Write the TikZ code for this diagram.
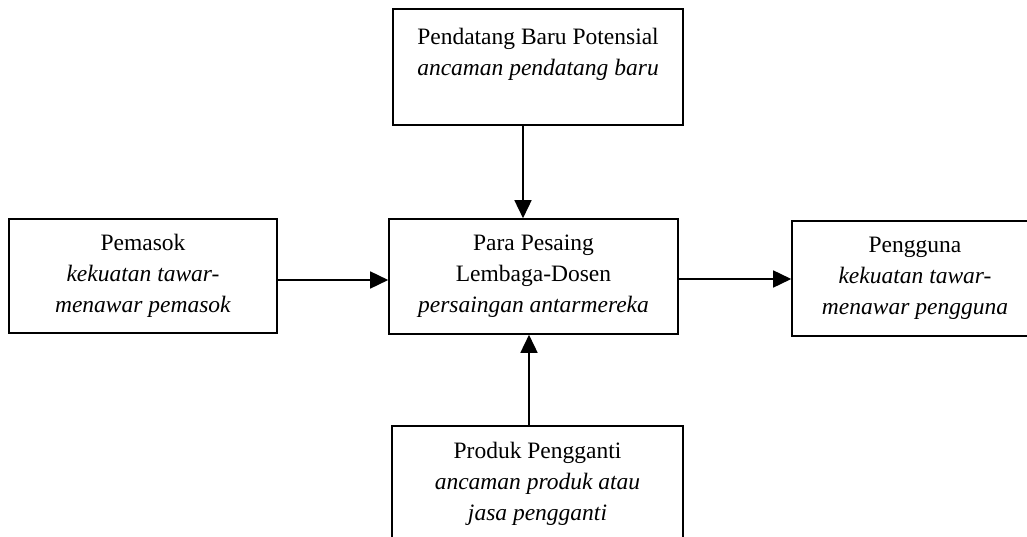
\documentclass[tikz,border=0pt]{standalone}
\usepackage{fontspec}
\setmainfont{Liberation Serif}
\usetikzlibrary{arrows.meta}
\begin{document}
\begin{tikzpicture}[x=1pt,y=-1pt,
  box/.style={draw=black,line width=1.6pt,rectangle,align=center,inner sep=0pt,
    font=\fontsize{23.5pt}{31pt}\selectfont},
  arr/.style={line width=1.6pt,-{Triangle[length=18pt,width=17pt]}}]
\useasboundingbox[fill=white] (0,0) rectangle (1027,537);
\clip (0,0) rectangle (1027,537);
\node[box,minimum width=290pt,minimum height=116pt] (T) at (538,67)
  {Pendatang Baru Potensial\\ \textit{ancaman pendatang baru}\\ \mbox{}};
\node[box,minimum width=289pt,minimum height=115pt] (M) at (533.5,276.5)
  {Para Pesaing\\ Lembaga-Dosen\\ \textit{persaingan antarmereka}};
\node[box,minimum width=268pt,minimum height=114pt] (L) at (143,276)
  {Pemasok\\ \textit{kekuatan tawar-}\\ \textit{menawar pemasok}};
\node[box,minimum width=246pt,minimum height=115pt] (R) at (915,278.5)
  {Pengguna\\ \textit{kekuatan tawar-}\\ \textit{menawar pengguna}};
\node[box,minimum width=291pt,minimum height=141pt] (B) at (537.5,496.5)
  {Produk Pengganti\\ \textit{ancaman produk atau}\\ \textit{jasa pengganti}\\ \mbox{}};
\draw[arr] ([xshift=-15pt]T.south) -- ([xshift=-10.5pt]M.north);
\draw[arr] ([xshift=-8.5pt]B.north) -- ([xshift=-4.5pt]M.south);
\draw[arr] ([yshift=-4pt]L.east) -- ([yshift=-3.5pt]M.west);
\draw[arr] ([yshift=-2.5pt]M.east) -- ([yshift=-0.5pt]R.west);
\end{tikzpicture}
\end{document}
